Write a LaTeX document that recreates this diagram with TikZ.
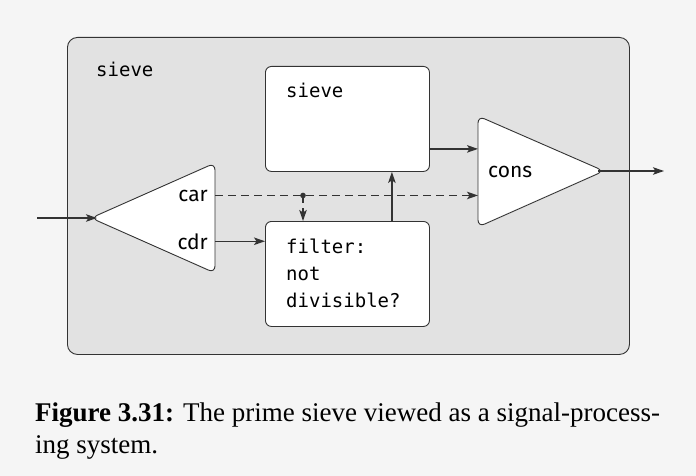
\documentclass[tikz,border=0pt]{standalone}
\usepackage{fontspec}
\setmainfont{Liberation Serif}
\setsansfont{Fira Sans}
\setmonofont{DejaVu Sans Mono}
\usepackage{xcolor}
\usetikzlibrary{arrows.meta,calc}
\definecolor{pagegray}{HTML}{F5F5F5}
\definecolor{boxgray}{HTML}{E2E2E2}
\definecolor{linegray}{HTML}{333333}
\begin{document}
\begin{tikzpicture}[x=1pt,y=-1pt,
  box node/.style={rectangle,draw=linegray,fill=white,rounded corners=6pt,minimum width=164pt,minimum height=105pt,anchor=north west,inner sep=0pt,line width=0.9pt},
  tri shape/.style={draw=linegray,fill=white,rounded corners=7pt,line width=0.9pt},
  mono text/.style={font=\ttfamily\fontsize{19}{27}\selectfont,inner sep=0pt,align=left,anchor=base west},
  port text/.style={font=\sffamily\fontsize{21}{25}\selectfont,inner sep=0pt},
  caption text/.style={font=\fontsize{27}{32}\selectfont,inner sep=0pt,anchor=base west},
  wire/.style={draw=linegray,line width=1.4pt,-{Stealth[length=11pt,width=7.5pt,inset=2.5pt]}},
  tapped/.style={dash pattern=on 8pt off 5pt}]
        \useasboundingbox[fill=pagegray] (0,0) rectangle (696,476);
        % outer sieve
        \node[draw=linegray,fill=boxgray,rounded corners=10pt,minimum width=562pt,minimum height=317pt,anchor=north west,line width=0.9pt] (outer) at (67,37) {};
        \node[mono text] (name) at (96,77) {sieve};
        % inner blocks
        \node[box node] (sieve) at (265,66) {};
        \node[mono text] (sievetext) at (286,98) {sieve};
        \node[box node] (filter) at (265,221) {};
        \node[mono text] (filtertext) at (286,307) {filter:\\not\\divisible?};
        % car/cdr splitter
        \coordinate (split apex) at (91,218);
        \coordinate (split top) at (215,163);
        \coordinate (split bottom) at (215,273);
        \coordinate (split tip) at (97,218);
        \draw[tri shape] (split apex) -- (split top) -- (split bottom) -- cycle;
        \node[port text,anchor=base east] (car) at (208,201) {car};
        \node[port text,anchor=base east] (cdr) at (208,249) {cdr};
        % cons
        \coordinate (cons top) at (478,116);
        \coordinate (cons bottom) at (478,227);
        \coordinate (cons apex) at (604,171);
        \coordinate (cons tip) at (598,171);
        \draw[tri shape] (cons top) -- (cons apex) -- (cons bottom) -- cycle;
        \node[port text,anchor=base west] (cons) at (488,178) {cons};
        % wires
        \coordinate (in) at (37,218);
        \coordinate (out) at (664,171);
        \coordinate (tapx) at ($(filter.north west)+(38,0)$);
        \coordinate (tap) at (tapx |- car.east);
        \coordinate (back) at ($(filter.north east)+(-38,0)$);
        \coordinate (rest) at ($(sieve.south east)+(0,-23)$);
        \draw[wire] (in) -- (split tip);
        \draw[wire,tapped] (split top |- car.east) -- (cons top |- car.east);
        \fill[linegray] (tap) circle (2.8pt);
        \draw[wire,tapped] (tap) -- (tap |- filter.north);
        \draw[wire] (split top |- cdr.east) -- (filter.west |- cdr.east);
        \draw[wire] (back) -- (back |- sieve.south);
        \draw[wire] (rest) -- (cons top |- rest);
        \draw[wire] (cons tip) -- (out);
        % caption
        \node[caption text] (caption) at (35,421) {\textbf{Figure 3.31:} The prime sieve viewed as a signal-process-};
        \node[caption text] (caption2) at (35,453) {ing system.};
      \end{tikzpicture}
\end{document}
